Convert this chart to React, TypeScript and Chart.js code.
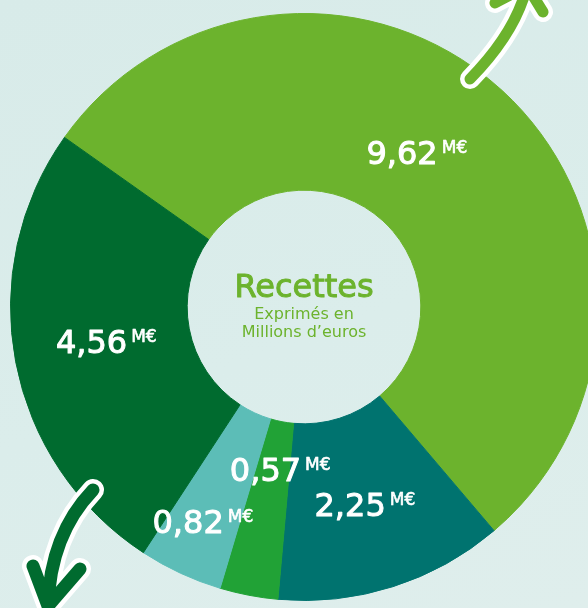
import { useEffect, useRef } from "react";
import { Chart, registerables } from "chart.js";

Chart.register(...registerables);

// ---- data ----
const valueLabels = ["9,62", "2,25", "0,57", "0,82", "4,56"];
const values = [9.62, 2.25, 0.57, 0.82, 4.56];
const unit = "M€";
const sliceColors = ["#6cb32d", "#00736f", "#21a236", "#5cbdb7", "#006b2f"];
const centerTitle = "Recettes";
const centerLines = ["Exprimés en", "Millions d’euros"];

// label placement tweaks (degrees, pixels) relative to each slice's middle
const labelAngleShift = [-6.4, 0.5, -2.5, 0.4, 1];
const labelRadialShift = [-13.5, 1.5, -41.5, 31.5, -4.5];

const FONT = "'DejaVu Sans', 'Open Sans', sans-serif";

function boldText(ctx: CanvasRenderingContext2D, text: string, x: number, y: number, stroke: number) {
  ctx.fillText(text, x, y);
  if (stroke > 0) {
    ctx.lineWidth = stroke;
    ctx.lineJoin = "round";
    ctx.strokeStyle = ctx.fillStyle as string;
    ctx.strokeText(text, x, y);
  }
}

const labelPlugin = {
  id: "sliceLabels",
  afterDatasetsDraw(chart: any) {
    const ctx = chart.ctx as CanvasRenderingContext2D;
    const meta = chart.getDatasetMeta(0);
    ctx.save();
    meta.data.forEach((arc: any, i: number) => {
      const p = arc.getProps(["x", "y", "startAngle", "endAngle", "innerRadius", "outerRadius"], true);
      const mid = (p.startAngle + p.endAngle) / 2 + (labelAngleShift[i] * Math.PI) / 180;
      const r = (p.innerRadius + p.outerRadius) / 2 + labelRadialShift[i];
      const cx = p.x + Math.cos(mid) * r;
      const cy = p.y + Math.sin(mid) * r;
      const mainSize = 32;
      const supSize = 17;
      ctx.font = `${mainSize}px ${FONT}`;
      const w1 = ctx.measureText(valueLabels[i]).width;
      ctx.font = `${supSize}px ${FONT}`;
      const w2 = ctx.measureText(unit).width;
      const gap = 4;
      const left = cx - (w1 + gap + w2) / 2;
      const capMain = 0.729 * mainSize;
      const capSup = 0.729 * supSize;
      ctx.fillStyle = "#ffffff";
      ctx.textAlign = "left";
      ctx.textBaseline = "alphabetic";
      ctx.font = `${mainSize}px ${FONT}`;
      boldText(ctx, valueLabels[i], left, cy + capMain / 2, 1);
      ctx.font = `${supSize}px ${FONT}`;
      boldText(ctx, unit, left + w1 + gap, cy - capMain / 2 + capSup, 0.6);
    });

    // center text
    const first = meta.data[0];
    if (first) {
      const c = first.getProps(["x", "y"], true);
      ctx.fillStyle = "#6cb32d";
      ctx.textAlign = "center";
      ctx.textBaseline = "alphabetic";
      ctx.font = `32px ${FONT}`;
      boldText(ctx, centerTitle, c.x, c.y - 10, 1);
      ctx.font = `16px ${FONT}`;
      boldText(ctx, centerLines[0], c.x, c.y + 11.5, 0);
      boldText(ctx, centerLines[1], c.x, c.y + 30, 0);
    }
    ctx.restore();
  },
};

function drawArrow(
  ctx: CanvasRenderingContext2D,
  color: string,
  width: number,
  p0: [number, number],
  cp: [number, number],
  tip: [number, number],
  barbA: [number, number],
  barbB: [number, number]
) {
  const path = () => {
    ctx.beginPath();
    ctx.moveTo(p0[0], p0[1]);
    ctx.quadraticCurveTo(cp[0], cp[1], tip[0], tip[1]);
    ctx.moveTo(barbA[0], barbA[1]);
    ctx.lineTo(tip[0], tip[1]);
    ctx.lineTo(barbB[0], barbB[1]);
  };
  ctx.lineCap = "round";
  ctx.lineJoin = "round";
  path();
  ctx.strokeStyle = "#ffffff";
  ctx.lineWidth = width + 9;
  ctx.stroke();
  path();
  ctx.strokeStyle = color;
  ctx.lineWidth = width;
  ctx.stroke();
}

const arrowPlugin = {
  id: "decoArrows",
  afterDraw(chart: any) {
    const ctx = chart.ctx as CanvasRenderingContext2D;
    ctx.save();
    drawArrow(ctx, sliceColors[0], 11, [470, 79], [516, 32], [527, -14], [495, 3], [543, 12]);
    drawArrow(ctx, sliceColors[4], 13, [93, 490], [50, 535], [48, 606], [33, 566], [80, 569]);
    ctx.restore();
  },
};

export default function App() {
  const canvasRef = useRef<HTMLCanvasElement | null>(null);

  useEffect(() => {
    const canvas = canvasRef.current;
    if (!canvas) return;
    const chart = new Chart(canvas, {
      type: "doughnut",
      data: {
        labels: valueLabels,
        datasets: [
          {
            data: values,
            backgroundColor: sliceColors,
            borderColor: sliceColors,
            borderWidth: 1,
            hoverOffset: 0,
          },
        ],
      },
      options: {
        responsive: false,
        animation: false,
        devicePixelRatio: 1,
        rotation: -54.7,
        cutout: "39.8%",
        layout: { padding: 10 },
        plugins: {
          legend: { display: false },
          tooltip: { enabled: false },
        },
      },
      plugins: [labelPlugin, arrowPlugin],
    });
    return () => chart.destroy();
  }, []);

  return (
    <div
      style={{
        position: "fixed",
        left: 0,
        top: 0,
        width: 588,
        height: 608,
        overflow: "hidden",
        background: "linear-gradient(160deg, #d8ebe9 0%, #dbedeb 55%, #dfeeec 100%)",
      }}
    >
      <canvas
        ref={canvasRef}
        width={608}
        height={614}
        style={{ position: "absolute", left: 0, top: 0, width: 608, height: 614 }}
      />
    </div>
  );
}
